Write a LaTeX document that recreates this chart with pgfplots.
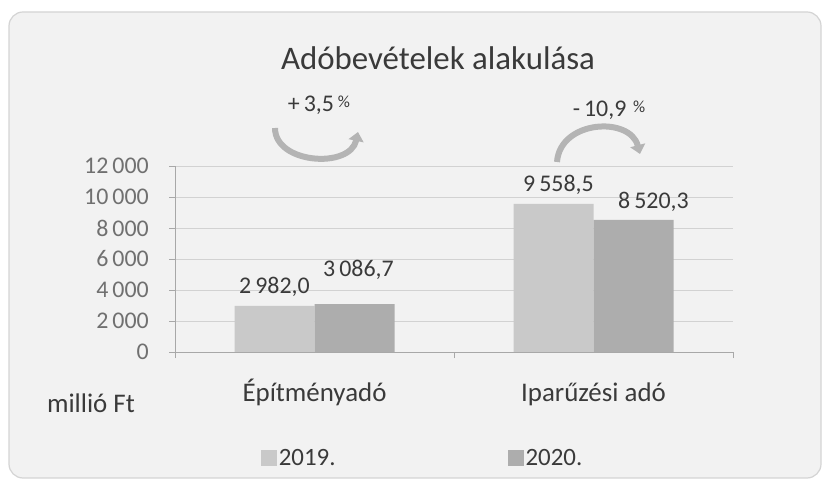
\documentclass[border=0pt]{standalone}
\usepackage{fontspec}
\setmainfont{Carlito}
\usepackage{pgfplots}
\pgfplotsset{compat=1.18}
\usepackage{pgfplotstable}
\usetikzlibrary{arrows.meta}
\definecolor{bg}{HTML}{F2F2F2}
\definecolor{framec}{HTML}{D4D4D4}
\definecolor{barA}{HTML}{C9C9C9}
\definecolor{barB}{HTML}{ADADAD}
\definecolor{txt}{HTML}{3A3A3A}
\definecolor{tickc}{HTML}{707070}
\definecolor{axc}{HTML}{A8A8A8}
\definecolor{gridc}{HTML}{D2D2D2}
\definecolor{arrc}{HTML}{B4B4B4}

\pgfplotstableread{
x y dx dy
0 2982.0 0 19
1 9558.5 5 19
}\dataA
\pgfplotstableread{
x y dx dy
0 3086.7 4 34
1 8520.3 20 18
}\dataB

\begin{document}
\begin{tikzpicture}
\fill[white] (0bp,0bp) rectangle (829bp,484bp);
\draw[rounded corners=14bp, fill=bg, draw=framec, line width=1.2bp] (9bp,6bp) rectangle (821bp,472bp);
\node[text=txt, font=\fontsize{33}{33}\selectfont] at (438bp,426bp) {Adóbevételek alakulása};
\node[text=txt, font=\fontsize{24}{24}\selectfont] at (319bp,379bp) {+\,3,5\,{\fontsize{17}{17}\selectfont\raisebox{4bp}{\%}}};
\node[text=txt, font=\fontsize{24}{24}\selectfont] at (609bp,374bp) {-\,10,9\;{\fontsize{17}{17}\selectfont\raisebox{4bp}{\%}}};
\draw[arrc, line width=6bp, -{Triangle[length=9bp,width=15bp]}] (275bp,356bp) .. controls (275bp,320bp) and (350bp,315bp) .. (358bp,352bp);
\draw[arrc, line width=6bp, -{Triangle[length=9bp,width=15bp]}] (557bp,322bp) .. controls (560bp,364bp) and (630bp,368bp) .. (640bp,330bp);
\node[text=txt, font=\fontsize{27}{27}\selectfont] at (91bp,81bp) {millió Ft};
\begin{axis}[
  at={(175bp,132bp)}, anchor=south west,
  scale only axis, width=558bp, height=186bp,
  xmin=-0.5, xmax=1.5, ymin=0, ymax=12000,
  ybar=0pt, bar width=80bp,
  axis x line*=bottom, axis y line*=left,
  axis line style={axc, line width=0.8bp},
  ytick={0,2000,...,12000},
  ymajorgrids, grid style={gridc, line width=0.8bp},
  xtick={0,1}, xticklabels={Építményadó, Iparűzési adó},
  minor xtick={-0.5,0.5,1.5},
  tick align=outside, major tick length=6bp, minor tick length=6bp,
  major x tick style={draw=none},
  minor x tick style={axc, line width=0.8bp},
  y tick style={axc, line width=0.8bp},
  scaled y ticks=false,
  /pgf/number format/.cd, use comma, 1000 sep={\,}, assume math mode=true,
  /pgfplots/.cd,
  yticklabel style={font=\fontsize{24}{24}\selectfont, text=tickc, anchor=east, inner sep=0pt, xshift=-20bp},
  xticklabel style={font=\fontsize{27}{27}\selectfont, text=txt, anchor=base, yshift=-43bp},
  nodes near coords={\pgfmathprintnumber[fixed, fixed zerofill, precision=1, use comma, 1000 sep={\,}, assume math mode=true]{\pgfplotspointmeta}},
  point meta=y,
  visualization depends on={\thisrow{dx} \as \dx},
  visualization depends on={\thisrow{dy} \as \dy},
  every node near coord/.append style={font=\fontsize{24}{24}\selectfont, text=txt, anchor=center, xshift=\dx*1bp, yshift=\dy*1bp},
  legend style={draw=none, fill=none, at={(0.148,-0.57)}, anchor=west, font=\fontsize{25}{25}\selectfont, text=txt,
    /tikz/every even column/.append style={column sep=170bp}},
  legend columns=2,
  legend image code/.code={\fill[#1, draw=none] (0bp,-8bp) rectangle (16bp,8bp);},
]
\addplot[fill=barA, draw=none] table[x=x, y=y] {\dataA};
\addplot[fill=barB, draw=none] table[x=x, y=y] {\dataB};
\legend{2019., 2020.}
\end{axis}
\end{tikzpicture}
\end{document}
